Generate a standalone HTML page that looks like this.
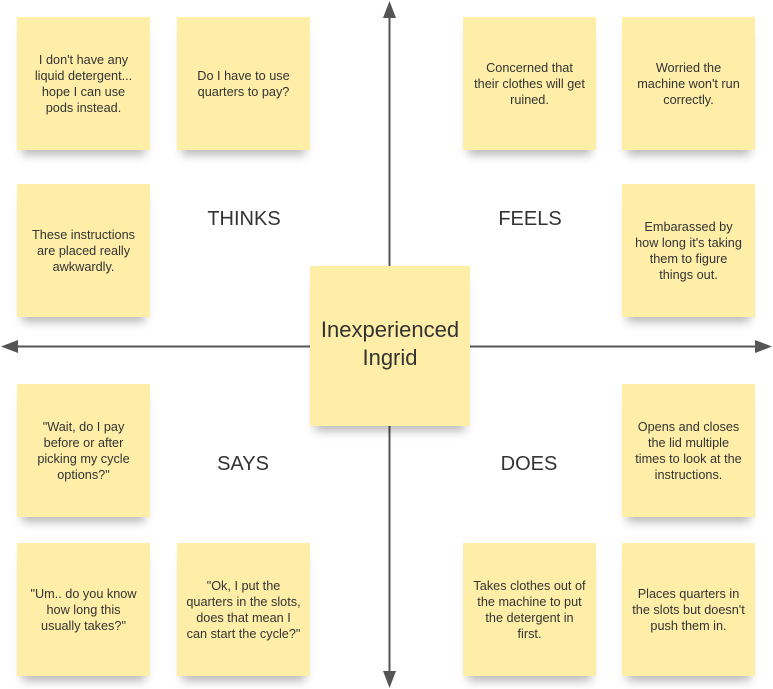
<!DOCTYPE html>
<html><head><meta charset="utf-8"><style>
body{margin:0;width:773px;height:689px;background:#fff;position:relative;overflow:hidden;font-family:"Liberation Sans",sans-serif;}
.n{position:absolute;width:133px;height:133px;background:#ffeea8;box-shadow:0 10px 9px -5px rgba(0,0,0,0.28);display:flex;align-items:center;justify-content:center;text-align:center;font-size:12.7px;line-height:16px;color:#333;box-sizing:border-box;padding:0;white-space:nowrap;}
.c{width:160px;height:160px;font-size:22px;line-height:28px;padding-bottom:4px;}
.l{position:absolute;font-size:20px;color:#333;transform:translateX(-50%);}
svg{position:absolute;left:0;top:0;}
</style></head><body>
<svg width="773" height="689">
<g stroke="#555" stroke-width="2" fill="#555">
<line x1="389.5" y1="15" x2="389.5" y2="674"/>
<line x1="15" y1="346.5" x2="758" y2="346.5"/>
<polygon points="389.5,1 383,18 396,18" stroke="none"/>
<polygon points="389.5,688 383,671 396,671" stroke="none"/>
<polygon points="1,346.5 18,340 18,353" stroke="none"/>
<polygon points="772,346.5 755,340 755,353" stroke="none"/>
</g></svg>
<div class="n" style="left:17px;top:17px"><div>I don't have any<br>liquid detergent...<br>hope I can use<br>pods instead.</div></div>
<div class="n" style="left:177px;top:17px"><div>Do I have to use<br>quarters to pay?</div></div>
<div class="n" style="left:463px;top:17px"><div>Concerned that<br>their clothes will get<br>ruined.</div></div>
<div class="n" style="left:622px;top:17px"><div>Worried the<br>machine won't run<br>correctly.</div></div>
<div class="n" style="left:17px;top:184px"><div>These instructions<br>are placed really<br>awkwardly.</div></div>
<div class="n" style="left:622px;top:184px"><div>Embarassed by<br>how long it's taking<br>them to figure<br>things out.</div></div>
<div class="n c" style="left:310px;top:266px"><div>Inexperienced<br>Ingrid</div></div>
<div class="n" style="left:17px;top:384px"><div>"Wait, do I pay<br>before or after<br>picking my cycle<br>options?"</div></div>
<div class="n" style="left:622px;top:384px"><div>Opens and closes<br>the lid multiple<br>times to look at the<br>instructions.</div></div>
<div class="n" style="left:17px;top:543px"><div>"Um.. do you know<br>how long this<br>usually takes?"</div></div>
<div class="n" style="left:177px;top:543px"><div>"Ok, I put the<br>quarters in the slots,<br>does that mean I<br>can start the cycle?"</div></div>
<div class="n" style="left:463px;top:543px"><div>Takes clothes out of<br>the machine to put<br>the detergent in<br>first.</div></div>
<div class="n" style="left:622px;top:543px"><div>Places quarters in<br>the slots but doesn't<br>push them in.</div></div>
<div class="l" style="left:244px;top:208px">THINKS</div>
<div class="l" style="left:530px;top:208px">FEELS</div>
<div class="l" style="left:243px;top:453px">SAYS</div>
<div class="l" style="left:529px;top:453px">DOES</div>
</body></html>
